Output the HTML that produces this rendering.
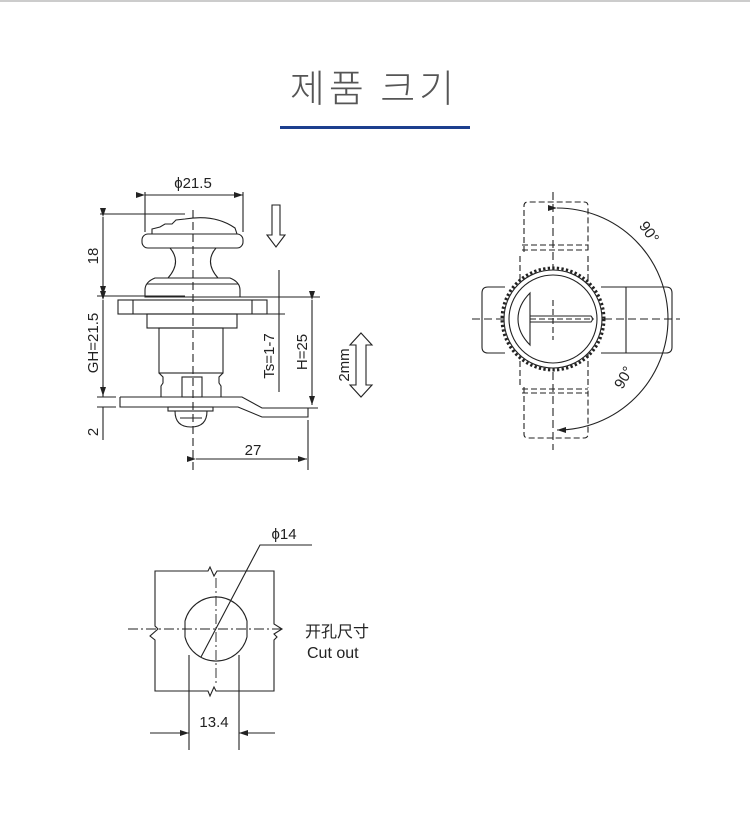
<!DOCTYPE html>
<html><head><meta charset="utf-8"><style>
html,body{margin:0;padding:0;background:#fff;width:750px;height:819px;overflow:hidden}
svg{display:block}
text{font-family:"Liberation Sans","Noto Sans CJK SC",sans-serif;fill:#222}
</style></head><body>
<svg width="750" height="819" viewBox="0 0 750 819" xmlns="http://www.w3.org/2000/svg">
<defs>
<marker id="ar" markerWidth="10" markerHeight="8" refX="9" refY="4" orient="auto" markerUnits="userSpaceOnUse"><path d="M0,1 L9,4 L0,7 z" fill="#222"/></marker>
</defs>
<line x1="0" y1="1" x2="750" y2="1" stroke="#ccc" stroke-width="2"/>
<text x="374" y="102" text-anchor="middle" font-size="38" font-weight="300" style="fill:#555;font-family:'Noto Sans CJK KR','NanumGothic',sans-serif" letter-spacing="4">제품 크기</text>
<rect x="280" y="126" width="190" height="3" fill="#1d3f8e"/>

<g fill="none" stroke="#222" stroke-width="1.1">
<!-- LEFT DRAWING -->
<line x1="193" y1="210" x2="193" y2="470" stroke-dasharray="8,4"/>
<line x1="145" y1="195" x2="243" y2="195" marker-start="url(#ar)" marker-end="url(#ar)"/>
<line x1="145" y1="192" x2="145" y2="232"/><line x1="243" y1="192" x2="243" y2="232"/>
<text x="193" y="188" text-anchor="middle" font-size="15" stroke="none">ϕ21.5</text>
<path d="M152,234 L152,229 L160,227 L165,224 L172,224 L176,220 L185,219 Q215,214 235,228 L237,234"/>
<rect x="142" y="234" width="101" height="14" rx="6"/>
<path d="M170,248 Q182,262 168,278 M216,248 Q204,262 218,278"/>
<path d="M155,278 L230,278 Q240,282 240,290 L240,297 L145,297 L145,290 Q145,282 155,278 Z"/>
<line x1="147" y1="284" x2="238" y2="284"/>
<rect x="118" y="300" width="149" height="14"/>
<line x1="133" y1="300" x2="133" y2="314"/><line x1="252" y1="300" x2="252" y2="314"/>
<rect x="147" y="314" width="90" height="14"/>
<rect x="159" y="328" width="64" height="45"/>
<path d="M159,373 L163,377 L163,383 L161,386 L161,397 M223,373 L219,377 L219,383 L221,386 L221,397"/>
<rect x="182" y="377" width="20" height="20"/>
<path d="M120,397 L242,397 L262,408 L318,408 M120,397 L120,407 L238,407 L262,417 L308,417 L308,408"/>
<rect x="168" y="407" width="45" height="4"/>
<path d="M175,411 Q175,427 191,427 Q207,427 207,411"/>
<path d="M180,418 L202,418"/>
<line x1="100" y1="214" x2="185" y2="214"/>
<line x1="97" y1="296" x2="185" y2="296"/>
<line x1="103" y1="217" x2="103" y2="295" marker-start="url(#ar)" marker-end="url(#ar)"/>
<text transform="translate(98,256) rotate(-90)" text-anchor="middle" font-size="15" stroke="none">18</text>
<line x1="103" y1="300" x2="103" y2="396" marker-start="url(#ar)" marker-end="url(#ar)"/>
<text transform="translate(98,343) rotate(-90)" text-anchor="middle" font-size="15" stroke="none">GH=21.5</text>
<line x1="97" y1="397" x2="116" y2="397"/><line x1="97" y1="407" x2="116" y2="407"/>
<line x1="103" y1="385" x2="103" y2="397" /><line x1="103" y1="407" x2="103" y2="440"/>
<text transform="translate(98,432) rotate(-90)" text-anchor="middle" font-size="15" stroke="none">2</text>
<line x1="240" y1="297" x2="320" y2="297"/>
<line x1="267" y1="314" x2="285" y2="314"/>
<line x1="279" y1="270" x2="279" y2="392"/>
<text transform="translate(274,356) rotate(-90)" text-anchor="middle" font-size="15" stroke="none">Ts=1-7</text>
<line x1="312" y1="300" x2="312" y2="405" marker-start="url(#ar)" marker-end="url(#ar)"/>
<text transform="translate(307,352) rotate(-90)" text-anchor="middle" font-size="15" stroke="none">H=25</text>
<line x1="308" y1="420" x2="308" y2="470"/>
<line x1="196" y1="459" x2="307" y2="459" marker-start="url(#ar)" marker-end="url(#ar)"/>
<text x="253" y="455" text-anchor="middle" font-size="15" stroke="none">27</text>
<path d="M272,205 L280,205 L280,235 L285,235 L276,247 L267,235 L272,235 Z"/>
<path d="M361,333 L372,345 L366,345 L366,385 L372,385 L361,397 L350,385 L356,385 L356,345 L350,345 Z"/>
<text transform="translate(349,365) rotate(-90)" text-anchor="middle" font-size="15" stroke="none">2mm</text>

<!-- RIGHT DRAWING -->
<line x1="472" y1="319" x2="680" y2="319" stroke-dasharray="8,4"/>
<line x1="553" y1="192" x2="553" y2="450" stroke-dasharray="8,4"/>
<g stroke-dasharray="6,3">
<path d="M524,252 L524,206 Q524,202 528,202 L584,202 Q588,202 588,206 L588,252"/>
<line x1="522" y1="245" x2="588" y2="245"/>
<line x1="522" y1="250" x2="588" y2="250"/>
<line x1="520" y1="256" x2="520" y2="290"/><line x1="588" y1="256" x2="588" y2="290"/>
<path d="M524,387 L524,434 Q524,438 528,438 L584,438 Q588,438 588,434 L588,387"/>
<line x1="522" y1="389" x2="588" y2="389"/>
<line x1="522" y1="393" x2="588" y2="393"/>
<line x1="520" y1="352" x2="520" y2="385"/><line x1="588" y1="352" x2="588" y2="385"/>
</g>
<path d="M505,287 L488,287 Q482,287 482,293 L482,347 Q482,353 488,353 L505,353 M601,287 L666,287 Q672,287 672,293 L672,347 Q672,353 666,353 L601,353"/>
<line x1="626" y1="287" x2="626" y2="353"/>
<circle cx="553" cy="319" r="51" stroke-width="3" stroke-dasharray="2.3,2.3"/>
<circle cx="553" cy="319" r="49" fill="#fff"/>
<circle cx="553" cy="319" r="44"/>
<path d="M530,293 Q518,305 518,319 Q518,333 530,345 Z"/>
<path d="M530,316 L591,316 Q594,319 591,322 L530,322"/>
<line x1="553" y1="300" x2="553" y2="340" stroke-dasharray="6,3"/>
<line x1="530" y1="319" x2="594" y2="319" stroke-dasharray="6,3"/>
<path d="M557,208 A111,111 0 0 1 557,430" marker-start="url(#ar)" marker-end="url(#ar)"/>
<text transform="translate(645,235) rotate(55)" text-anchor="middle" font-size="15" stroke="none">90°</text>
<text transform="translate(628,380) rotate(-60)" text-anchor="middle" font-size="15" stroke="none">90°</text>

<!-- CUTOUT -->
<path d="M155,571 L208,571 L210,567 L214,576 L217,571 L274,571 L274,624 L282,629 L274,634 L277,637 L274,640 L274,691 L216,691 L214,687 L210,696 L208,691 L155,691 L155,640 L150,636 L158,629 L155,626 Z"/>
<path d="M185,621 A32,32 0 0 1 247,621 L247,637 A32,32 0 0 1 185,637 Z" fill="#fff"/>
<line x1="128" y1="629" x2="285" y2="629" stroke-dasharray="10,3,2,3" stroke-width="0.9"/>
<line x1="216" y1="578" x2="216" y2="685" stroke-dasharray="10,3,2,3" stroke-width="0.9"/>
<path d="M201,657 L260,545 L312,545"/>
<text x="284" y="539" text-anchor="middle" font-size="15" stroke="none">ϕ14</text>
<line x1="189" y1="655" x2="189" y2="750"/><line x1="239" y1="655" x2="239" y2="750"/>
<line x1="150" y1="733" x2="189" y2="733" marker-end="url(#ar)"/>
<line x1="275" y1="733" x2="239" y2="733" marker-end="url(#ar)"/>
<text x="214" y="727" text-anchor="middle" font-size="15" stroke="none">13.4</text>
<text x="305" y="637" font-size="16" stroke="none">开孔尺寸</text>
<text x="307" y="658" font-size="16" stroke="none">Cut out</text>
</g>
</svg>
</body></html>
